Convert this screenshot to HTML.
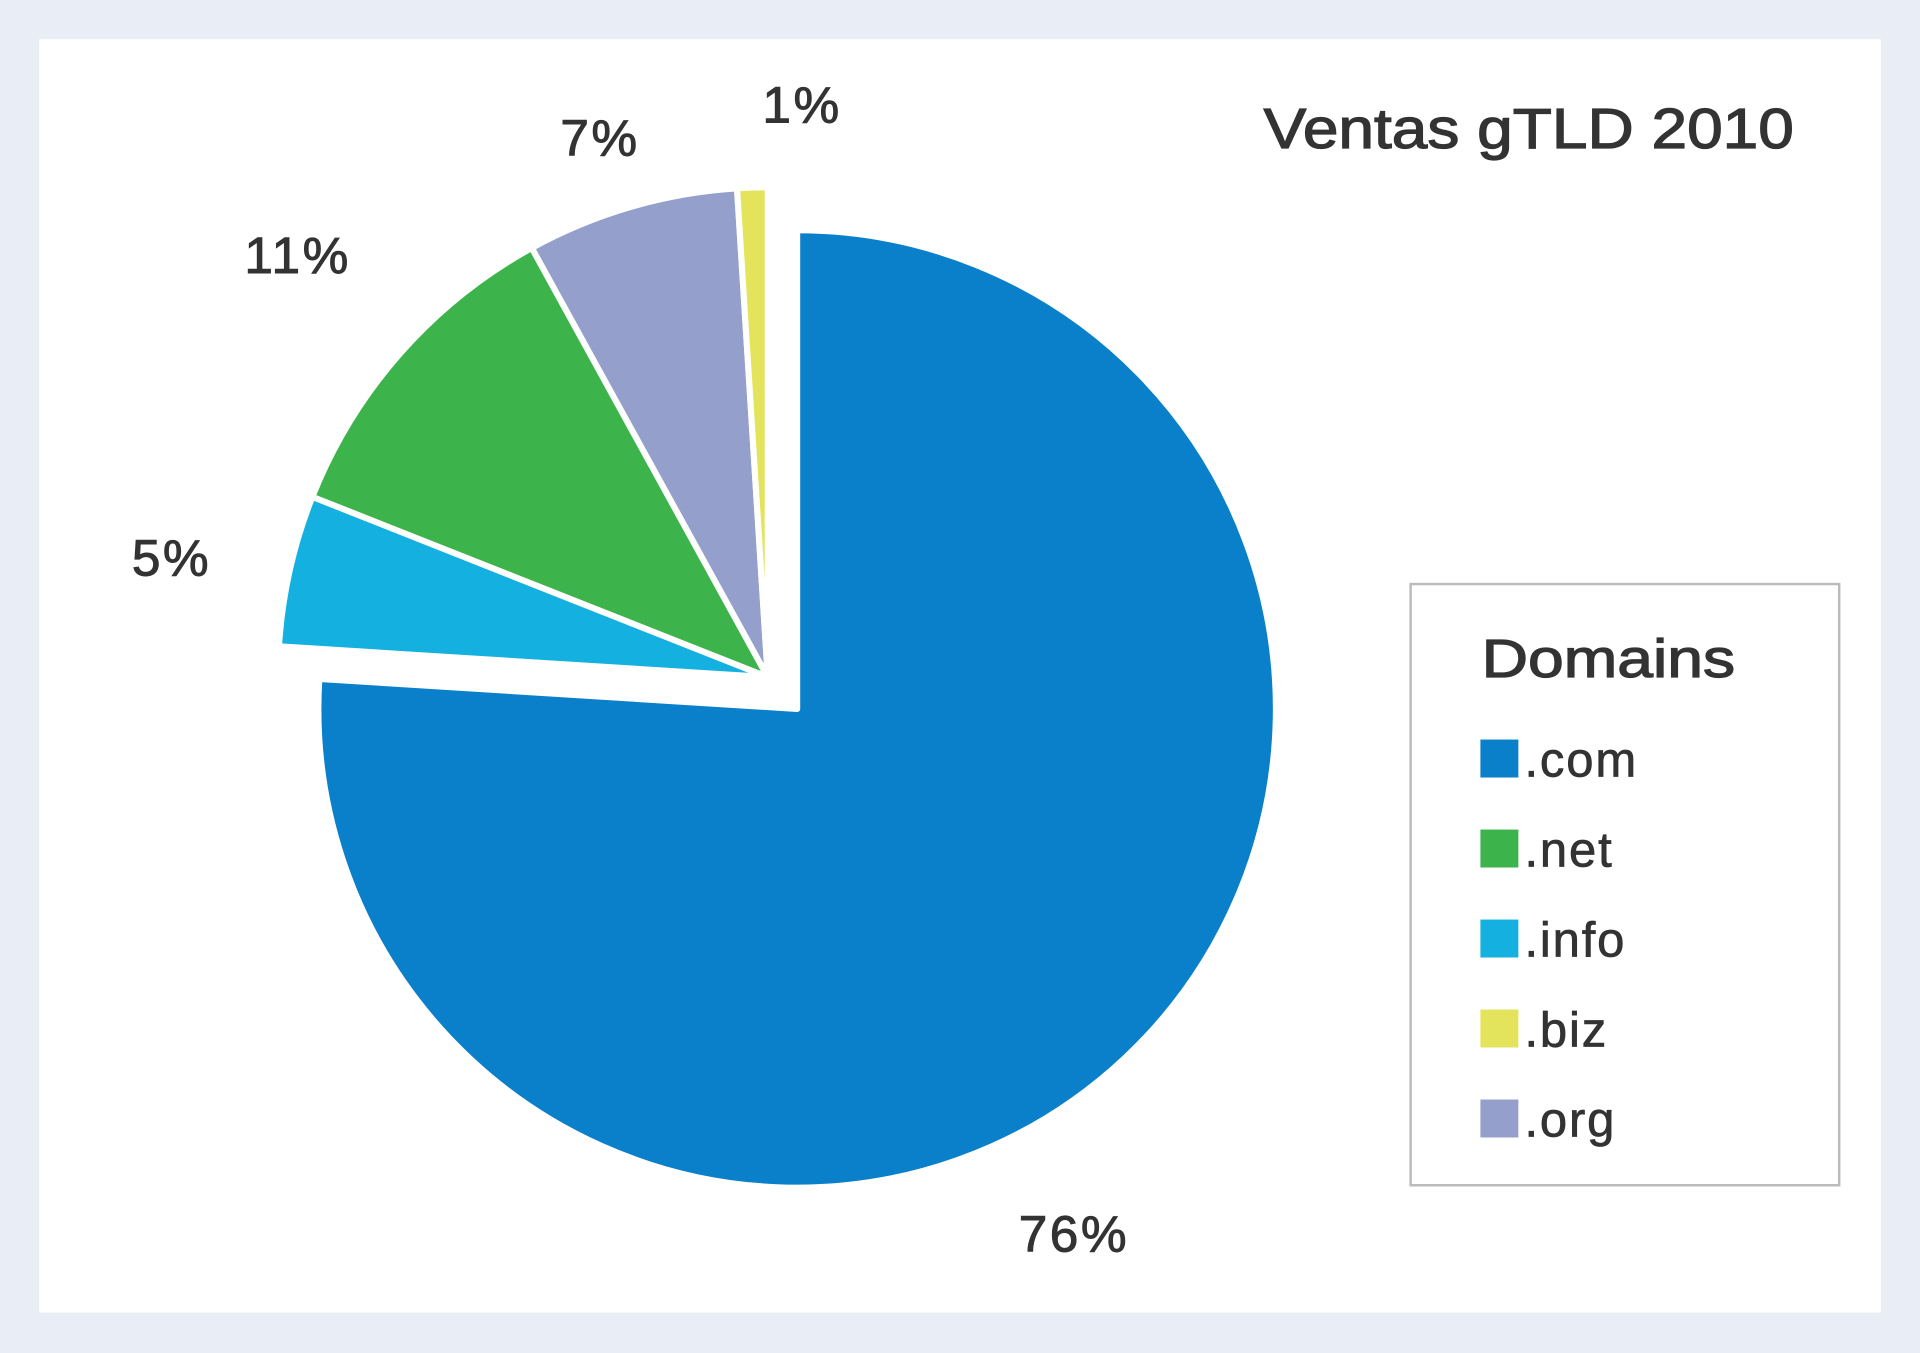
<!DOCTYPE html>
<html><head><meta charset="utf-8"><style>
html,body{margin:0;padding:0;background:#e8edf6;}
svg{display:block;}
text{font-family:"Liberation Sans",sans-serif;fill:#333;}
</style></head><body>
<svg id="chart" width="1920" height="1353" viewBox="0 0 1568 1105" preserveAspectRatio="none" xmlns="http://www.w3.org/2000/svg">
<rect x="0" y="0" width="1568" height="1105" fill="#e8edf6"/>
<rect x="32" y="32" width="1504" height="1040" fill="#ffffff"/>
<text x="1032" y="121" font-size="46" stroke="#333" stroke-width="1" textLength="433" lengthAdjust="spacingAndGlyphs">Ventas gTLD 2010</text>
<g id="slices"></g>
<g id="labels"></g>
<rect x="1152" y="477" width="350" height="491" fill="#fff" stroke="#bbb" stroke-width="2"/>
<text x="1210" y="553" font-size="44" stroke="#333" stroke-width="1" textLength="207" lengthAdjust="spacingAndGlyphs">Domains</text>
<g id="legend"></g>
</svg>
<script>
const categories = [".com", ".info", ".net", ".org", ".biz"];
const values = [76, 5, 11, 7, 1];
const valueLabels = ["76%", "5%", "11%", "7%", "1%"];
const legendOrder = [".com", ".net", ".info", ".biz", ".org"];
const colors = {".com":"#0a7fca", ".info":"#14b1e0", ".net":"#3cb44b", ".org":"#949fcc", ".biz":"#e4e45c"};
// label layout (pixel placement, not data)
const labelLayout = [[877,1007],[140,455],[243,208],[490,112],[655,85]];

const NS = "http://www.w3.org/2000/svg";
const total = values.reduce((a,b)=>a+b,0);
const gS = document.getElementById('slices');
const gL = document.getElementById('labels');
const gLeg = document.getElementById('legend');

function angleOf(v){ return v/total*2*Math.PI; }
function pt(cx,cy,r,a){ return [cx + r*Math.sin(a), cy - r*Math.cos(a)]; }

let acc = 0;
categories.forEach((c,i)=>{
  const a0 = angleOf(acc), a1 = angleOf(acc+values[i]);
  acc += values[i];
  const big = i===0;
  const cx = big?651:627, cy = big?579:553, r = big?391:400;
  const p0 = pt(cx,cy,r,a0), p1 = pt(cx,cy,r,a1);
  const large = (a1-a0)>Math.PI?1:0;
  const path = document.createElementNS(NS,'path');
  path.setAttribute('d',`M${cx},${cy} L${p0[0]},${p0[1]} A${r},${r} 0 ${large} 1 ${p1[0]},${p1[1]} Z`);
  path.setAttribute('fill',colors[c]);
  path.setAttribute('stroke','#fff');
  path.setAttribute('stroke-width','5');
  path.setAttribute('stroke-linejoin','round');
  
  
  gS.appendChild(path);
  const lp = labelLayout[i];
  const t = document.createElementNS(NS,'text');
  t.setAttribute('x',lp[0]); t.setAttribute('y',lp[1]+15);
  t.setAttribute('font-size','42');
  t.setAttribute('stroke','#333');
  t.setAttribute('stroke-width','0.8');
  t.setAttribute('letter-spacing','2');
  t.setAttribute('text-anchor','middle');
  
  
  t.textContent = valueLabels[i];
  gL.appendChild(t);
});

legendOrder.forEach((c,i)=>{
  const y = 620 + i*73.5;
  const sw = document.createElementNS(NS,'rect');
  sw.setAttribute('x',1209); sw.setAttribute('y',y-16);
  sw.setAttribute('width',31); sw.setAttribute('height',31);
  sw.setAttribute('fill',colors[c]);
  
  
  gLeg.appendChild(sw);
  const t = document.createElementNS(NS,'text');
  t.setAttribute('x',1245); t.setAttribute('y',y+14);
  t.setAttribute('font-size','40');
  t.setAttribute('stroke','#333');
  t.setAttribute('stroke-width','0.6');
  t.setAttribute('letter-spacing','1.5');
  
  
  t.textContent = c;
  gLeg.appendChild(t);
});
</script>
</body></html>
